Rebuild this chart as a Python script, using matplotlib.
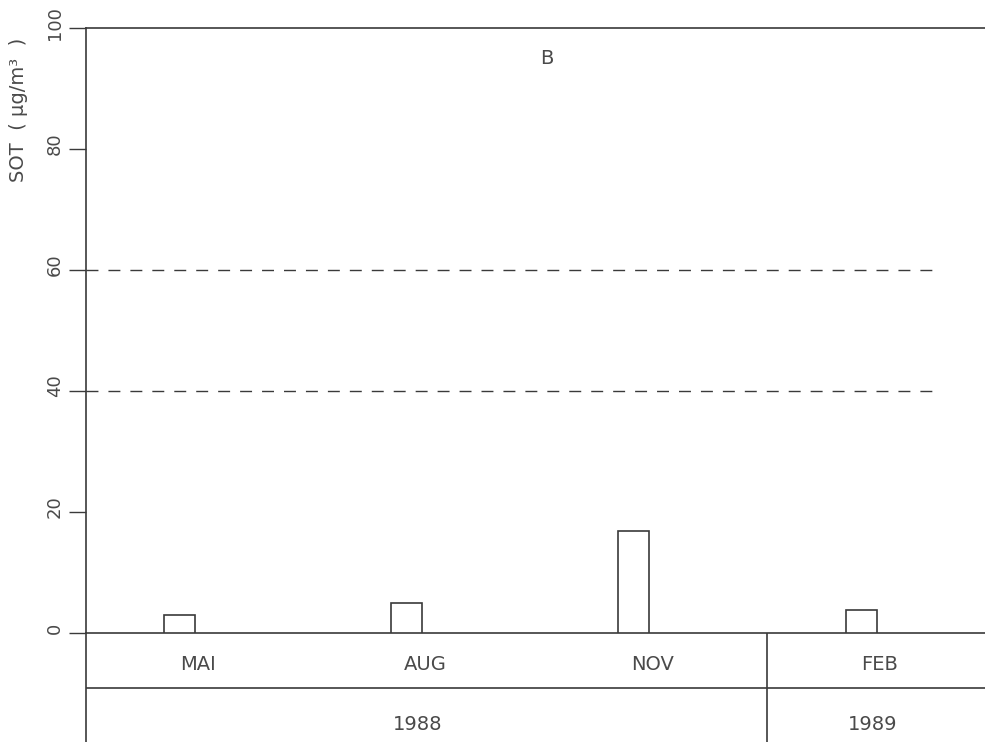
import matplotlib
matplotlib.use("Agg")
import matplotlib.pyplot as plt
import matplotlib.transforms as mtransforms

# Data (x = month index counted from Jan 1988)
months = ["MAI", "AUG", "NOV", "FEB"]
month_pos = [5, 8, 11, 14]
sot = [3.0, 4.9, 16.9, 3.8]
years = ["1988", "1989"]
year_pos = [8.15, 14.15]
year_break = 12.755
ref_levels = [40, 60]
yticks = [0, 20, 40, 60, 80, 100]

INK = "#3a3a3a"
TXT = "#4a4a4a"
W, H = 985, 742

fig = plt.figure(figsize=(W / 100, H / 100), dpi=100)
fig.patch.set_facecolor("white")

# main plot area in pixel terms
left, right, top, zero, bottom = 86, 985, 28, 633, 742
ax = fig.add_axes([left / W, 1 - zero / H, (right - left) / W, (zero - top) / H])
tab = fig.add_axes([left / W, 0, (right - left) / W, (bottom - zero) / H], sharex=ax)

ax.bar(month_pos, sot, width=0.41, facecolor="white", edgecolor=INK, linewidth=1.2, zorder=3)
for lv in ref_levels:
    ax.plot([3.77, 14.95], [lv, lv], color=INK, linewidth=1.0,
            linestyle=(0, (8.6, 7.2)), zorder=2)

ax.set_xlim(3.77, 15.636)
ax.set_ylim(0, 100)
ax.set_yticks(yticks)
ax.set_yticklabels([str(t) for t in yticks], rotation=90, va="center",
                   fontsize=13, color=TXT)
ax.tick_params(axis="y", direction="out", length=12, width=1.0, color=INK, pad=4)
ax.tick_params(axis="x", bottom=False, labelbottom=False)
# labels sit a little above their ticks in the original
shift = mtransforms.ScaledTranslation(0, 5 / 100, fig.dpi_scale_trans)
for lab in ax.get_yticklabels():
    lab.set_transform(lab.get_transform() + shift)
ax.spines["right"].set_visible(False)
for s in ("left", "top", "bottom"):
    ax.spines[s].set_color(INK)
    ax.spines[s].set_linewidth(1.2)

# y label placed at its position in the reference
fig.text(19 / W, 1 - 110 / H, "SOT  ( μg/m³  )", rotation=90, ha="center", va="center",
         fontsize=14, color=TXT)
ax.text(0.513, 0.95, "B", transform=ax.transAxes, ha="center", va="center",
        fontsize=14, color=TXT)

# table of months / years under the axis
tab.set_ylim(0, 2)
tab.set_yticks([])
tab.tick_params(axis="x", bottom=False, labelbottom=False)
for s in ("right", "top", "bottom"):
    tab.spines[s].set_visible(False)
tab.spines["left"].set_color(INK)
tab.spines["left"].set_linewidth(1.2)
tab.set_facecolor("none")
tab.axhline(1.0, color=INK, linewidth=1.2)
tab.plot([year_break, year_break], [0, 2], color=INK, linewidth=1.2)
for m, x in zip(months, month_pos):
    tab.text(x + 0.25, 1.43, m, ha="center", va="center", fontsize=14, color=TXT)
for yr, x in zip(years, year_pos):
    tab.text(x, 0.33, yr, ha="center", va="center", fontsize=14, color=TXT)

fig.savefig("out.png", dpi=100)
